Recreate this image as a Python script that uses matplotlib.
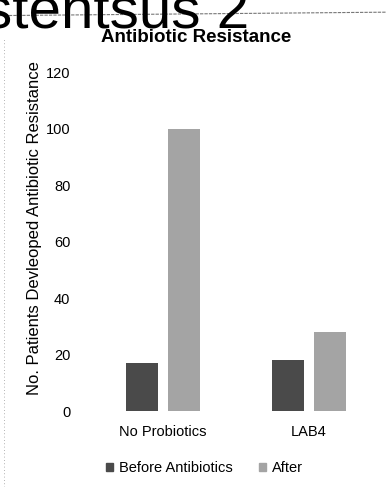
import numpy as np
import matplotlib.pyplot as plt
from matplotlib.lines import Line2D

plt.rcParams['font.family'] = ['Liberation Sans', 'DejaVu Sans']

# 数据
groups = ['No Probiotics', 'LAB4']
before = [17, 18]
after = [100, 28]
series_names = ['Before Antibiotics', 'After']
yticks = [0, 20, 40, 60, 80, 100, 120]

c_before = '#4a4a4a'
c_after = '#a4a4a4'

fig = plt.figure(figsize=(3.86, 4.87), dpi=100)
ax = fig.add_axes([0.233, 0.156, 0.756, 0.696])

x = np.arange(len(groups))
w = 0.22
ax.bar(x - 0.143, before, w, color=c_before)
ax.bar(x + 0.143, after, w, color=c_after)

ax.set_xlim(-0.5, 1.5)
ax.set_ylim(0, 120)
ax.set_yticks(yticks)
ax.set_xticks(x)
ax.set_xticklabels(groups, fontsize=10.5)
ax.tick_params(axis='y', length=0, pad=14, labelsize=10.5)
ax.tick_params(axis='x', length=0, pad=10)
for s in ax.spines.values():
    s.set_visible(False)
ax.set_ylabel('No. Patients Devleoped Antibiotic Resistance', fontsize=12)
ax.yaxis.set_label_coords(-0.164, 0.54)

# 标题
fig.text(0.508, 0.924, 'Antibiotic Resistance', ha='center', va='center',
         fontsize=13.5, fontweight='bold')

# 扫描页上方的大字
fig.text(-0.044, 0.9405, 'stentsus 2', ha='left', va='baseline', fontsize=42)
fig.add_artist(Line2D([0, 1], [0.968, 0.975], color='#777777', lw=0.8,
                      ls=(0, (3, 1)), transform=fig.transFigure))
fig.add_artist(Line2D([0.011, 0.011], [0, 0.92], color='#999999', lw=0.6,
                      ls=(0, (1, 3)), transform=fig.transFigure))

# 图例
handles = [plt.Rectangle((0, 0), 1, 1, color=c_before),
           plt.Rectangle((0, 0), 1, 1, color=c_after)]
fig.legend(handles, series_names, loc='center', bbox_to_anchor=(0.53, 0.039),
           ncol=2, frameon=False, fontsize=10.5, handlelength=0.45,
           handleheight=0.45, handletextpad=0.45, columnspacing=1.8)

fig.savefig('out.png', dpi=100)
